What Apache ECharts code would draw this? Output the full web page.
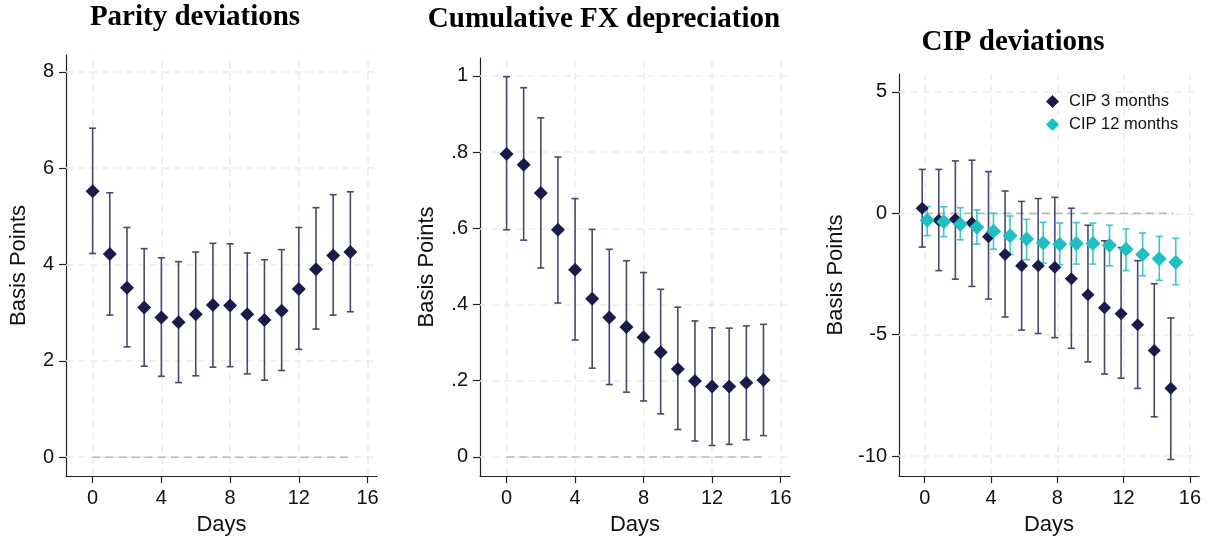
<!DOCTYPE html>
<html>
<head>
<meta charset="utf-8">
<script src="https://cdn.jsdelivr.net/npm/echarts@6/dist/echarts.min.js"></script>
<style>
  html, body { margin: 0; padding: 0; background: #fff; }
  #chart { width: 1212px; height: 541px; }
</style>
</head>
<body>
<div id="chart"></div>
<script>
// Horizon in days after the event
const days = [0, 1, 2, 3, 4, 5, 6, 7, 8, 9, 10, 11, 12, 13, 14, 15];

// Parity deviations: point estimate and 95% band
const parityCoef = [5.52, 4.22, 3.52, 3.11, 2.90, 2.80, 2.97, 3.16, 3.15, 2.97, 2.85, 3.04, 3.49, 3.90, 4.19, 4.26];
const parityLo   = [4.23, 2.95, 2.29, 1.89, 1.68, 1.55, 1.69, 1.87, 1.88, 1.73, 1.60, 1.80, 2.24, 2.66, 2.95, 3.02];
const parityHi   = [6.83, 5.49, 4.77, 4.33, 4.14, 4.06, 4.26, 4.44, 4.43, 4.24, 4.10, 4.31, 4.77, 5.18, 5.45, 5.51];

// Cumulative FX depreciation
const fxCoef = [0.795, 0.767, 0.693, 0.596, 0.491, 0.415, 0.366, 0.341, 0.314, 0.275, 0.231, 0.199, 0.185, 0.185, 0.195, 0.202];
const fxLo   = [0.596, 0.569, 0.496, 0.404, 0.307, 0.233, 0.190, 0.170, 0.147, 0.113, 0.072, 0.042, 0.030, 0.033, 0.045, 0.056];
const fxHi   = [0.998, 0.969, 0.890, 0.787, 0.678, 0.597, 0.545, 0.515, 0.484, 0.440, 0.393, 0.357, 0.339, 0.338, 0.344, 0.348];

// CIP deviations, 3-month tenor
const cip3Coef = [0.21, -0.28, -0.24, -0.40, -0.96, -1.70, -2.16, -2.16, -2.22, -2.69, -3.35, -3.89, -4.14, -4.59, -5.65, -7.21];
const cip3Lo   = [-1.39, -2.36, -2.71, -3.01, -3.53, -4.27, -4.81, -4.95, -5.12, -5.56, -6.12, -6.62, -6.79, -7.21, -8.38, -10.14];
const cip3Hi   = [1.81, 1.81, 2.16, 2.19, 1.72, 0.92, 0.49, 0.61, 0.66, 0.21, -0.49, -1.13, -1.41, -1.95, -2.90, -4.31];

// CIP deviations, 12-month tenor
const cip12Coef = [-0.28, -0.35, -0.45, -0.57, -0.74, -0.92, -1.06, -1.22, -1.27, -1.24, -1.24, -1.31, -1.48, -1.70, -1.87, -2.01];
const cip12Lo   = [-0.92, -0.96, -1.09, -1.27, -1.48, -1.70, -1.91, -2.05, -2.12, -2.09, -2.09, -2.16, -2.36, -2.57, -2.76, -2.94];
const cip12Hi   = [0.28, 0.27, 0.23, 0.14, 0.00, -0.11, -0.25, -0.37, -0.40, -0.38, -0.40, -0.49, -0.64, -0.81, -0.95, -1.03];

// Tick labels
const dayTicks = [0, 4, 8, 12, 16];
const parityTicks = [0, 2, 4, 6, 8];
const fxTicks = [0, 0.2, 0.4, 0.6, 0.8, 1];
const cipTicks = [-10, -5, 0, 5];

const titles = ['Parity deviations', 'Cumulative FX depreciation', 'CIP deviations'];
const legendNames = ['CIP 3 months', 'CIP 12 months'];

const SANS = '"Liberation Sans", Arial, Helvetica, sans-serif';
const SERIF = '"Liberation Serif", "Times New Roman", serif';
const NAVY = '#1b1b4b';
const NAVY_BAR = '#48486f';
const TEAL = '#1fbfc1';
const TEAL_BAR = '#3ec6c9';
const DODGE = 0.15;

const chart = echarts.init(document.getElementById('chart'), null, { renderer: 'canvas' });

function pairs(xs, ys, off) {
  return xs.map((d, i) => [d + off, ys[i]]);
}

// Vertical confidence band with short caps at both ends
function errorBars(idx, off, lo, hi, color) {
  return {
    type: 'custom',
    xAxisIndex: idx,
    yAxisIndex: idx,
    z: 10,
    silent: true,
    data: days.map((d, i) => [d + off, lo[i], hi[i]]),
    encode: { x: 0, y: [1, 2] },
    renderItem: function (params, api) {
      const x = api.value(0);
      const a = api.coord([x, api.value(1)]);
      const b = api.coord([x, api.value(2)]);
      const w = 3.5;
      const st = { stroke: color, lineWidth: 1.6 };
      return {
        type: 'group',
        children: [
          { type: 'line', shape: { x1: a[0], y1: a[1], x2: b[0], y2: b[1] }, style: st },
          { type: 'line', shape: { x1: a[0] - w, y1: a[1], x2: a[0] + w, y2: a[1] }, style: st },
          { type: 'line', shape: { x1: b[0] - w, y1: b[1], x2: b[0] + w, y2: b[1] }, style: st }
        ]
      };
    }
  };
}

function points(idx, name, off, coef, color, size) {
  return {
    type: 'scatter',
    name: name,
    xAxisIndex: idx,
    yAxisIndex: idx,
    z: 12,
    symbol: 'diamond',
    symbolSize: size,
    itemStyle: { color: color, opacity: 1 },
    data: pairs(days, coef, off)
  };
}

// Background dashed grid plus the zero reference over the estimation window
function gridAndZero(idx, yTicks) {
  return {
    type: 'line',
    xAxisIndex: idx,
    yAxisIndex: idx,
    z: 3,
    silent: true,
    symbol: 'none',
    lineStyle: { color: '#b8b8b8', width: 1.6, type: [8, 5] },
    data: [[days[0], 0], [days[days.length - 1], 0]],
    markLine: {
      z: 1,
      silent: true,
      symbol: 'none',
      label: { show: false },
      lineStyle: { color: '#ebebeb', width: 1.5, type: [7, 5] },
      data: yTicks.map(v => ({ yAxis: v })).concat(dayTicks.map(v => ({ xAxis: v })))
    }
  };
}

function xAxis(idx) {
  return {
    type: 'value',
    gridIndex: idx,
    min: -1.55,
    max: 16.55,
    name: 'Days',
    nameLocation: 'middle',
    nameGap: 38,
    nameTextStyle: { fontSize: 22, fontFamily: SANS, color: '#111' },
    axisLine: { show: true, onZero: false, lineStyle: { color: '#222', width: 1.2 } },
    axisTick: { show: true, length: 7, customValues: dayTicks, lineStyle: { color: '#222', width: 1.2 } },
    axisLabel: { customValues: dayTicks, fontSize: 20, fontFamily: SANS, color: '#111', margin: 12 },
    splitLine: { show: false }
  };
}

function yAxis(idx, min, max, ticks, gap, fmt) {
  return {
    type: 'value',
    gridIndex: idx,
    min: min,
    max: max,
    name: 'Basis Points',
    nameLocation: 'middle',
    nameGap: gap,
    nameTextStyle: { fontSize: 22, fontFamily: SANS, color: '#111' },
    axisLine: { show: true, onZero: false, lineStyle: { color: '#222', width: 1.2 } },
    axisTick: { show: true, length: 7, customValues: ticks, lineStyle: { color: '#222', width: 1.2 } },
    axisLabel: { customValues: ticks, fontSize: 20, fontFamily: SANS, color: '#111', margin: 12, formatter: fmt },
    splitLine: { show: false }
  };
}

const fxFmt = v => (v === 0 ? '0' : v === 1 ? '1' : String(v).replace(/^0\./, '.'));
const plainFmt = v => String(v);

const option = {
  animation: false,
  backgroundColor: '#ffffff',
  textStyle: { fontFamily: SANS },
  graphic: [
    { type: 'text', x: 195, y: 18, style: { text: titles[0], font: 'bold 29px ' + SERIF, fill: '#000', align: 'center', verticalAlign: 'middle' } },
    { type: 'text', x: 604, y: 20, style: { text: titles[1], font: 'bold 29px ' + SERIF, fill: '#000', align: 'center', verticalAlign: 'middle' } },
    { type: 'text', x: 1013, y: 43, style: { text: titles[2], font: 'bold 29px ' + SERIF, fill: '#000', align: 'center', verticalAlign: 'middle' } }
  ],
  legend: {
    data: legendNames,
    orient: 'vertical',
    left: 1041,
    top: 88,
    itemWidth: 13,
    itemHeight: 13,
    itemGap: 6,
    icon: 'diamond',
    textStyle: { fontSize: 16.5, fontFamily: SANS, color: '#111', padding: [0, 0, 0, 5] },
    selectedMode: false
  },
  grid: [
    { left: 66, top: 55, width: 311, height: 422 },
    { left: 480, top: 58, width: 310, height: 419 },
    { left: 899, top: 74, width: 300, height: 404 }
  ],
  xAxis: [xAxis(0), xAxis(1), xAxis(2)],
  yAxis: [
    yAxis(0, -0.39, 8.35, parityTicks, 36, plainFmt),
    yAxis(1, -0.05, 1.047, fxTicks, 42, fxFmt),
    yAxis(2, -10.82, 5.74, cipTicks, 52, plainFmt)
  ],
  series: [
    gridAndZero(0, parityTicks),
    errorBars(0, 0, parityLo, parityHi, NAVY_BAR),
    points(0, 'Parity', 0, parityCoef, NAVY, 14),

    gridAndZero(1, fxTicks),
    errorBars(1, 0, fxLo, fxHi, NAVY_BAR),
    points(1, 'FX', 0, fxCoef, NAVY, 14),

    gridAndZero(2, cipTicks),
    errorBars(2, -DODGE, cip3Lo, cip3Hi, NAVY_BAR),
    errorBars(2, DODGE, cip12Lo, cip12Hi, TEAL_BAR),
    points(2, legendNames[0], -DODGE, cip3Coef, NAVY, 13),
    points(2, legendNames[1], DODGE, cip12Coef, TEAL, 15)
  ]
};

chart.setOption(option);
</script>
</body>
</html>
